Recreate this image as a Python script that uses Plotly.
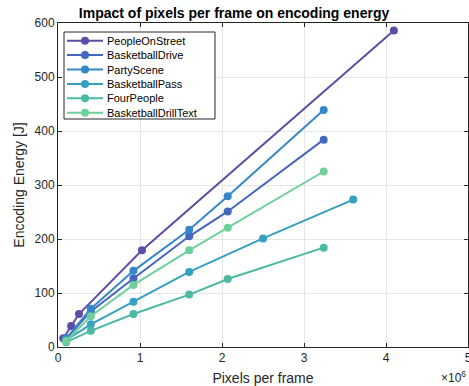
import plotly.graph_objects as go

names = ["PeopleOnStreet", "BasketballDrive", "PartyScene", "BasketballPass", "FourPeople", "BasketballDrillText"]
colors = ["#5e4da6", "#4566be", "#3588c8", "#35a0c0", "#4cb9a2", "#6fd09c"]

x_people = [0.064e6, 0.16e6, 0.256e6, 1.024e6, 4.096e6]
y_people = [16, 39, 61, 179, 586]

x_drive = [0.1e6, 0.4e6, 0.92e6, 1.6e6, 2.07e6, 3.24e6]
y_drive = [15, 66, 127, 205, 251, 384]

x_party = [0.1e6, 0.4e6, 0.92e6, 1.6e6, 2.07e6, 3.24e6]
y_party = [16, 71, 141, 217, 279, 439]

x_pass = [0.1e6, 0.4e6, 0.92e6, 1.6e6, 2.5e6, 3.6e6]
y_pass = [13, 42, 84, 139, 201, 273]

x_four = [0.1e6, 0.4e6, 0.92e6, 1.6e6, 2.07e6, 3.24e6]
y_four = [9, 30, 61, 97, 126, 184]

x_drill = [0.1e6, 0.4e6, 0.92e6, 1.6e6, 2.07e6, 3.24e6]
y_drill = [11, 57, 115, 179, 221, 325]

series = [(x_people, y_people), (x_drive, y_drive), (x_party, y_party),
          (x_pass, y_pass), (x_four, y_four), (x_drill, y_drill)]

x_ticks = [0, 1e6, 2e6, 3e6, 4e6, 5e6]
x_ticklabels = ["0", "1", "2", "3", "4", "5"]
y_ticks = [0, 100, 200, 300, 400, 500, 600]

W, H = 469, 386
ML, MR, MT, MB = 58, 1, 23, 39
PW = W - ML - MR
PH = H - MT - MB

def px(xp):
    return (xp - ML) / PW

def py(yp):
    return (H - MB - yp) / PH

FONT = "Liberation Sans, Arial"

fig = go.Figure()
for name, color, (xs, ys) in zip(names, colors, series):
    fig.add_trace(go.Scatter(
        x=xs, y=ys, name=name, mode="lines+markers",
        line=dict(color=color, width=2),
        marker=dict(color=color, size=8),
        showlegend=False,
    ))

axis_common = dict(
    showline=True, linecolor="#262626", linewidth=1, mirror="allticks",
    ticks="inside", ticklen=4, tickcolor="#262626",
    showgrid=True, gridcolor="#e6e6e6", gridwidth=1, zeroline=False,
    automargin=False,
    tickfont=dict(family=FONT, size=12, color="#262626"),
)

fig.update_layout(
    width=W, height=H,
    margin=dict(l=ML, r=MR, t=MT, b=MB),
    paper_bgcolor="white", plot_bgcolor="white",
    title=dict(text="<b>Impact of pixels per frame on encoding energy</b>",
               x=0.499, xanchor="center", y=0.966, yanchor="middle",
               font=dict(family=FONT, size=14, color="#000000")),
    xaxis=dict(range=[0, 5e6], tickvals=x_ticks, ticktext=x_ticklabels,
               ticklabeloverflow="allow",
               title=dict(text="Pixels per frame", standoff=8,
                          font=dict(family=FONT, size=14, color="#262626")),
               **axis_common),
    yaxis=dict(range=[0, 600], tickvals=y_ticks,
               title=dict(text="Encoding Energy [J]", standoff=6,
                          font=dict(family=FONT, size=14, color="#262626")),
               **axis_common),
    showlegend=False,
)

# custom compact legend (MATLAB style)
box_l, box_t, box_r, box_b = 64, 32, 215, 119
row0, row_step = 40.7, 14.4
line_l, line_r, mark_x, text_x = 67, 103, 85, 106
shapes = [dict(type="rect", xref="paper", yref="paper",
               x0=px(box_l), x1=px(box_r), y0=py(box_b), y1=py(box_t),
               line=dict(color="#262626", width=1), fillcolor="white", layer="above")]
annotations = []
for i, (name, color) in enumerate(zip(names, colors)):
    yc = row0 + i * row_step
    shapes.append(dict(type="line", xref="paper", yref="paper",
                       x0=px(line_l), x1=px(line_r), y0=py(yc), y1=py(yc),
                       line=dict(color=color, width=2), layer="above"))
    shapes.append(dict(type="circle", xref="paper", yref="paper",
                       x0=px(mark_x - 4), x1=px(mark_x + 4), y0=py(yc + 4), y1=py(yc - 4),
                       line=dict(color=color, width=0), fillcolor=color, layer="above"))
    annotations.append(dict(text=name, xref="paper", yref="paper",
                            x=px(text_x), y=py(yc), xanchor="left", yanchor="middle",
                            showarrow=False, borderpad=0,
                            font=dict(family=FONT, size=11, color="#000000")))

annotations.append(dict(text="×10<sup>6</sup>", xref="paper", yref="paper",
                        x=px(467), y=py(386), xanchor="right", yanchor="bottom",
                        showarrow=False, borderpad=0,
                        font=dict(family=FONT, size=12, color="#262626")))

fig.update_layout(shapes=shapes, annotations=annotations)

fig.write_html("out.html")
